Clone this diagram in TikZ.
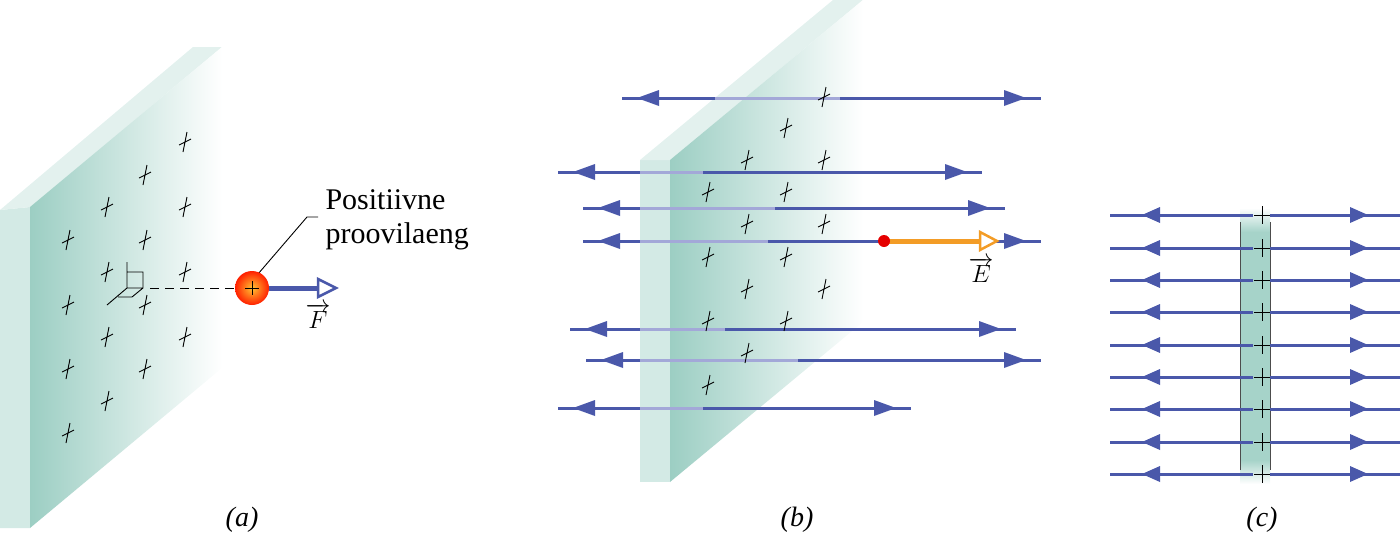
\documentclass[tikz,border=0pt]{standalone}
\usepackage{fontspec}
\setmainfont{Liberation Serif}
\begin{document}
\definecolor{fl}{HTML}{4A58AA}
\definecolor{fll}{HTML}{A3A8D8}
\definecolor{teal1}{HTML}{9CCEC3}
\definecolor{side}{HTML}{D3EAE5}
\definecolor{topf}{HTML}{E3F1EE}
\definecolor{orng}{HTML}{F39C26}
\begin{tikzpicture}[x=1pt,y=-1pt,
  fline/.style={draw=fl,line width=3pt},
  flight/.style={draw=fll,line width=3pt},
  chg/.style={line width=0.9pt,black},
  lbl/.style={font=\fontsize{28}{30}\selectfont\itshape},
  vlbl/.style={font=\fontsize{32}{34}\selectfont,inner sep=0pt}]
\useasboundingbox (0,0) rectangle (1400,536);
% ---------- (a)
\fill[side] (0,210)--(30,207)--(30,528)--(0,528)--cycle;
\fill[topf] (0,210)--(193,47)--(222,47)--(30,207)--cycle;
\shade[left color=teal1,right color=white] (30,207)--(222,47)--(222,368)--(30,528)--cycle;
\foreach \p in {(185,142),(145,175),(107,207),(185,207),(68,240),(145,240),(107,272),(185,272),(68,305),(145,305),(107,337),(185,337),(68,369),(145,369),(107,401),(68,433)}{
  \path \p coordinate (q); \draw[chg] ([shift={(2,-10)}]q)--([shift={(-2,10)}]q) ([shift={(-6,3)}]q)--([shift={(6,-3)}]q);}
\draw[line width=0.9pt] (127,262)--(127,288)--(107,305) (127,272)--(143,272)--(143,288)--(132,297)--(118,297) (127,288)--(143,288);
\draw[line width=0.9pt,dash pattern=on 9pt off 6pt] (150,288)--(235,288);
\draw[line width=0.9pt] (258,274)--(307,217)--(318,217);
\draw[fl,line width=5pt] (269,288)--(318,288);
\draw[fl,line width=2.5pt,fill=white] (318,279)--(336,288)--(318,297)--cycle;
\shade[inner color=orange!60!yellow!80!white,outer color=red!75!orange,shading=radial] (252,288) circle (17);
\draw[line width=1pt] (245,288)--(259,288) (252,281)--(252,295);
\node[vlbl] (F) at (318,316) {$\overrightarrow{F}$};
\node[anchor=west,font=\fontsize{30}{34}\selectfont,align=left] (txt) at (322,220) {Positiivne\\proovilaeng};
\node[lbl] (la) at (242,520) {(a)};
% ---------- (b)
\fill[side] (640,160)--(670,160)--(670,482)--(640,482)--cycle;
\fill[topf] (640,160)--(833,0)--(863,0)--(670,160)--cycle;
\shade[left color=teal1,right color=white] (670,160)--(863,0)--(863,322)--(670,482)--cycle;
\foreach \y/\a/\b/\c/\d in {98/622/1041/715/840,172/558/982/640/703,208/583/1005/640/775,241/583/1041/640/768,329/570/1016/640/725,360/586/1041/640/798,408/558/911/640/703}{
  \draw[fline] (\a,\y)--(\b,\y);
  \draw[flight] (\c,\y)--(\d,\y);
  \fill[fl] (\a+15,\y)--(\a+37,\y-8)--(\a+37,\y+8)--cycle;
  \fill[fl] (\b-15,\y)--(\b-37,\y-8)--(\b-37,\y+8)--cycle;}
\foreach \p in {(824,97),(786,128),(747,160),(824,160),(708,192),(786,192),(747,224),(824,224),(708,257),(786,257),(747,289),(824,289),(708,321),(786,321),(747,353),(708,385)}{
  \path \p coordinate (q); \draw[chg] ([shift={(2,-10)}]q)--([shift={(-2,10)}]q) ([shift={(-6,3)}]q)--([shift={(6,-3)}]q);}
\draw[orng,line width=5pt] (884,241)--(980,241);
\draw[orng,line width=2.5pt,fill=white] (980,232)--(997,241)--(980,250)--cycle;
\fill[red!90!black] (884,241) circle (6);
\node[vlbl] (E) at (981,270) {$\overrightarrow{E}$};
\node[lbl] (lb) at (797,520) {(b)};
% ---------- (c)
\shade[top color=white,bottom color=teal1!90] (1240,208) rectangle (1270,232);
\fill[teal1!90] (1240,232) rectangle (1270,460);
\shade[top color=teal1!90,bottom color=white] (1240,460) rectangle (1270,484);
\draw[black!70,line width=0.8pt] (1240,222)--(1240,470) (1270,222)--(1270,470);
\foreach \y in {215,248,280,312,345,377,409,442,474}{
  \draw[fline] (1110,\y)--(1253,\y) (1270,\y)--(1400,\y);
  \fill[fl] (1142,\y)--(1160,\y-8)--(1160,\y+8)--cycle;
  \fill[fl] (1368,\y)--(1350,\y-8)--(1350,\y+8)--cycle;
  \draw[line width=1pt] (1254,\y)--(1270,\y) (1262,\y-9)--(1262,\y+9);}
\node[lbl] (lc) at (1262,520) {(c)};
\end{tikzpicture}
\end{document}
